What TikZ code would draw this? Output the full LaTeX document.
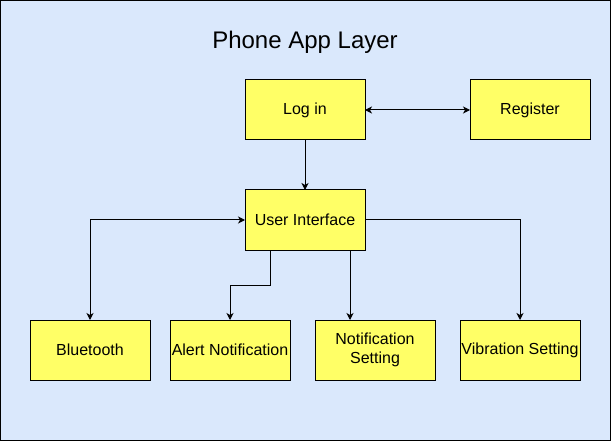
\documentclass[tikz,border=0pt]{standalone}
\usepackage{fontspec}
\setmainfont{Liberation Sans}
\usepackage{xcolor}
\usetikzlibrary{arrows.meta, positioning, calc}
\definecolor{layerblue}{HTML}{DAE8FC}
\definecolor{boxyellow}{HTML}{FFFF66}
\tikzset{
    applayer/.style={>={Stealth[length=7pt, width=7pt, inset=2pt]}, line width=1pt, x=1pt, y=-1pt, node distance=50pt and 105pt},
    appbox/.style={draw, fill=boxyellow, minimum width=120pt, minimum height=60pt, outer sep=0pt, inner sep=1pt, align=center, font=\fontsize{16}{19}\selectfont},
    title/.style={font=\fontsize{24}{29}\selectfont},
}
\begin{document}
\begin{tikzpicture}[applayer]
        \useasboundingbox (0,0) rectangle (611,441);
        \draw[fill=layerblue] (0.5,0.5) rectangle (610.5,440.5);
        \node[title] (head) at (305,42) {Phone App Layer};

        \node[appbox] (login) at (305,110)         {Log in};
        \node[appbox, right=of login]    (register) {Register};
        \node[appbox, below=of login]    (ui)       {User Interface};
        \node[appbox] (bt) at (90,350)              {Bluetooth};
        \node[appbox, right=20pt of bt]  (alert)    {Alert Notification};
        \node[appbox, right=25pt of alert] (notif)  {Notification\\Setting};
        \node[appbox, right=25pt of notif] (vib)    {Vibration Setting};

        \draw[<->] (login) -- (register);
        \draw[->] (login) -- (ui);
        \draw[<->] (ui.west) -| (bt);
        \draw[->] ([xshift=-35pt]ui.south) -- ++(0,35) -| (alert);
        \draw[->] ([xshift=45pt]ui.south) -- ([xshift=45pt]ui.south |- notif.north);
        \draw[->] (ui.east) -| (vib);
    \end{tikzpicture}
\end{document}
